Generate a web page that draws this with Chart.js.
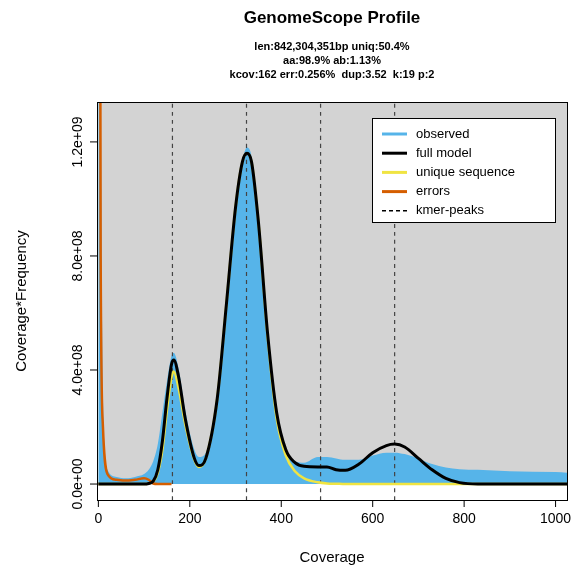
<!DOCTYPE html>
<html><head><meta charset="utf-8">
<script src="https://cdn.jsdelivr.net/npm/chart.js@4/dist/chart.umd.min.js"></script>
<style>html,body{margin:0;padding:0;background:#fff}#wrap{width:584px;height:580px}</style>
</head><body><div id="wrap"><canvas id="c"></canvas></div>
<script>
const coverage = [0,5,10,20,40,60,80,100,110,120,130,140,150,160,165,175,190,210,220,235,260,280,300,315,325,335,350,370,390,410,430,450,480,500,520,540,570,600,630,648,670,700,730,760,790,830,900,1000,1025];
const observed = [40,15,3,0.5,0.25,0.2,0.25,0.35,0.5,0.8,1.4,2.5,3.6,4.5,4.6,4.1,2.6,1.2,0.95,1.1,3.0,6.2,9.5,11.3,11.8,11.5,9.5,5.5,2.6,1.2,0.8,0.75,0.95,0.95,0.9,0.85,0.85,1.0,1.1,1.1,1.05,0.9,0.7,0.58,0.52,0.5,0.45,0.42,0.4];
const fullModel = [0,0,0,0,0,0,0,0,0.02,0.1,0.5,1.5,3.0,4.2,4.35,3.8,2.3,0.9,0.65,0.9,3.0,6.3,9.7,11.3,11.6,11.3,9.2,5.3,2.5,1.2,0.75,0.62,0.6,0.6,0.5,0.48,0.7,1.1,1.35,1.4,1.3,0.9,0.5,0.2,0.05,0,0,0,0];
const uniqueSeq = [0,0,0,0,0,0,0,0,0.02,0.08,0.4,1.2,2.6,3.75,3.95,3.4,2.1,0.85,0.6,0.9,3.0,6.3,9.7,11.3,11.6,11.3,9.2,5.2,2.3,1.0,0.45,0.2,0.06,0.02,0.01,0,0,0,0,0,0,0,0,0,0,0,0,0,0];
const errors = [60,8,2,0.35,0.15,0.12,0.15,0.2,0.15,0.02,0,0,0,0];
const kmerPeaks = [162,324,486,648];
const xTicks = [0,200,400,600,800,1000];
const yTicks = [0,4e8,8e8,1.2e9];
const yTickLabels = ["0.0e+00","4.0e+08","8.0e+08","1.2e+09"];
const titleText = "GenomeScope Profile";
const subtitleLines = ["len:842,304,351bp uniq:50.4%","aa:98.9% ab:1.13%","kcov:162 err:0.256%  dup:3.52  k:19 p:2"];
const legendItems = [["observed","#56B4E9",false],["full model","#000000",false],["unique sequence","#F0E442",false],["errors","#D55E00",false],["kmer-peaks","#000000",true]];
const X_MIN=-3, X_MAX=1025, Y_MIN=-0.56e8, Y_MAX=13.4e8;

const pts = (arr)=>arr.map((v,i)=>({x:coverage[i], y:v*1e8}));
const ds = [
  {data:pts(observed), borderWidth:0, borderColor:'rgba(0,0,0,0)', backgroundColor:'#56B4E9', fill:'origin', order:5},
  {data:pts(uniqueSeq), borderColor:'#F0E442', borderWidth:2.5, fill:false, order:3},
  {data:pts(errors), borderColor:'#D55E00', borderWidth:2.5, fill:false, order:2},
  {data:pts(fullModel), borderColor:'#000000', borderWidth:3, fill:false, order:1},
];
kmerPeaks.forEach(p=>ds.push({data:[{x:p,y:Y_MIN},{x:p,y:Y_MAX}], borderColor:'#444', borderWidth:1.2, borderDash:[4,4], fill:false, order:4}));

const FONT='"Liberation Sans", Arial, sans-serif';
const deco = {
  id:'deco',
  beforeDatasetsDraw(ch){
    const c=ch.ctx, x=ch.scales.x, y=ch.scales.y;
    c.save(); c.fillStyle='#d3d3d3';
    const l=x.getPixelForValue(0), r=ch.chartArea.right, t=ch.chartArea.top, b=y.getPixelForValue(0);
    c.fillRect(l,t,r-l,b-t); c.restore();
  },
  afterDraw(ch){
    const c=ch.ctx, x=ch.scales.x, y=ch.scales.y, a=ch.chartArea;
    c.save();
    c.strokeStyle='#000'; c.lineWidth=1; c.strokeRect(a.left+0.5,a.top+0.5,a.right-a.left,a.bottom-a.top);
    c.fillStyle='#000'; c.font='14px '+FONT; c.textAlign='center'; c.textBaseline='top';
    xTicks.forEach(v=>{const px=x.getPixelForValue(v); c.beginPath(); c.moveTo(px,a.bottom); c.lineTo(px,a.bottom+7); c.stroke(); c.fillText(String(v),px,a.bottom+12);});
    yTicks.forEach((v,i)=>{const py=y.getPixelForValue(v); c.beginPath(); c.moveTo(a.left,py); c.lineTo(a.left-7,py); c.stroke();
      c.save(); c.translate(a.left-12,py); c.rotate(-Math.PI/2); c.textBaseline='bottom'; c.fillText(yTickLabels[i],0,0); c.restore();});
    c.font='15px '+FONT; c.textBaseline='middle';
    c.fillText('Coverage',(a.left+a.right)/2,558);
    c.save(); c.translate(22,(a.top+a.bottom)/2); c.rotate(-Math.PI/2); c.fillText('Coverage*Frequency',0,0); c.restore();
    const cx=(a.left+a.right)/2;
    c.font='bold 17px '+FONT; c.fillText(titleText,cx,18);
    c.font='bold 11px '+FONT; subtitleLines.forEach((s,i)=>c.fillText(s,cx,47+i*14));
    // legend
    c.fillStyle='#fff'; c.fillRect(372,118,183,104); c.strokeRect(372.5,118.5,183,104);
    c.font='13px '+FONT; c.textAlign='left';
    legendItems.forEach((it,i)=>{const ly=134+i*19.2; c.strokeStyle=it[1]; c.lineWidth=it[2]?1.5:3; c.setLineDash(it[2]?[4,3]:[]);
      c.beginPath(); c.moveTo(382,ly); c.lineTo(407,ly); c.stroke(); c.fillStyle='#000'; c.fillText(it[0],416,ly);});
    c.restore();
  }
};
new Chart(document.getElementById('c'),{
  type:'line',
  data:{datasets:ds},
  options:{responsive:true, maintainAspectRatio:false, animation:false,
    layout:{padding:{left:97,right:17,top:102,bottom:80}},
    elements:{point:{radius:0}, line:{cubicInterpolationMode:'monotone'}},
    plugins:{legend:{display:false}, tooltip:{enabled:false}},
    scales:{x:{type:'linear',min:X_MIN,max:X_MAX,display:false},
            y:{type:'linear',min:Y_MIN,max:Y_MAX,display:false}}},
  plugins:[deco]
});
</script></body></html>
